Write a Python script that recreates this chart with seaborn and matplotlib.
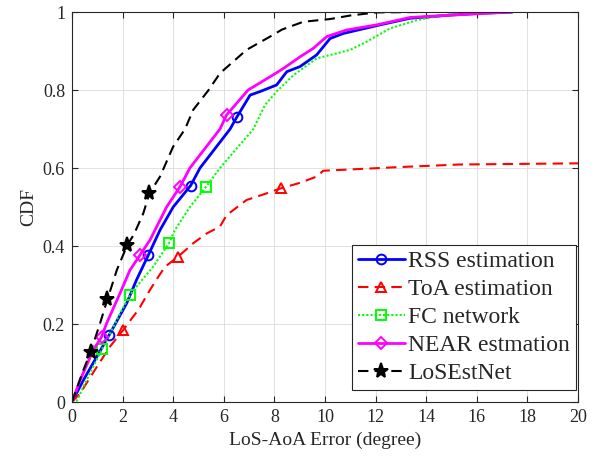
import numpy as np
import pandas as pd
import matplotlib
matplotlib.use("Agg")
import matplotlib.pyplot as plt
import seaborn as sns

# CDF curves (x = LoS-AoA error in degree)
rss_x = [0, 0.45, 0.98, 1.47, 2.16, 2.55, 3.02, 3.48, 4.0, 4.69, 5.06, 6.25, 6.51, 7.04, 7.43, 8.09, 8.49, 9.01, 9.67, 10.2, 10.72, 12.17, 13.36, 14.94, 16.2, 17.4]
rss_y = [0, 0.056, 0.116, 0.172, 0.253, 0.313, 0.377, 0.441, 0.5, 0.555, 0.6, 0.7, 0.73, 0.787, 0.796, 0.813, 0.847, 0.86, 0.89, 0.932, 0.945, 0.967, 0.984, 0.992, 0.997, 1.0]
rss_marks = [3, 6, 9, 12]

toa_x = [0, 0.32, 0.98, 1.5, 2.03, 2.36, 2.62, 3.08, 3.41, 3.68, 4.2, 4.79, 5.32, 5.85, 6.11, 6.9, 7.69, 8.26, 9.01, 9.67, 9.93, 12.8, 15.3, 20]
toa_y = [0, 0.022, 0.09, 0.142, 0.185, 0.214, 0.236, 0.287, 0.321, 0.347, 0.373, 0.407, 0.432, 0.45, 0.479, 0.518, 0.535, 0.548, 0.562, 0.578, 0.593, 0.602, 0.609, 0.612]
toa_marks = [4, 10, 17]

fc_x = [0, 0.2, 0.71, 1.2, 1.9, 2.29, 2.55, 3.21, 3.83, 4.07, 4.66, 5.3, 5.85, 7.17, 7.63, 8.09, 8.75, 9.67, 11.0, 11.65, 12.57, 13.62, 15.4]
fc_y = [0, 0.004, 0.074, 0.137, 0.227, 0.274, 0.296, 0.347, 0.407, 0.441, 0.5, 0.552, 0.6, 0.7, 0.762, 0.796, 0.838, 0.881, 0.903, 0.924, 0.958, 0.979, 1.0]
fc_marks = [3, 5, 8, 11]

near_x = [0, 0.32, 0.84, 1.17, 1.37, 1.9, 2.29, 2.69, 3.08, 3.74, 4.27, 4.66, 5.85, 6.11, 6.96, 7.83, 8.35, 9.01, 9.54, 10.07, 10.86, 12.04, 13.36, 14.94, 17.4]
near_y = [0, 0.056, 0.133, 0.167, 0.202, 0.279, 0.338, 0.377, 0.415, 0.5, 0.552, 0.6, 0.7, 0.736, 0.8, 0.834, 0.855, 0.885, 0.907, 0.937, 0.954, 0.967, 0.986, 0.992, 1.0]
near_marks = [3, 7, 10, 13]

lose_x = [0, 0.45, 0.74, 1.11, 1.4, 1.77, 2.19, 2.45, 2.82, 3.06, 3.48, 4.0, 4.47, 4.79, 5.4, 5.85, 6.9, 7.83, 8.3, 9.14, 10.2, 10.99, 12.04, 13.7]
lose_y = [0, 0.082, 0.129, 0.202, 0.263, 0.338, 0.403, 0.43, 0.484, 0.535, 0.578, 0.655, 0.7, 0.749, 0.8, 0.843, 0.903, 0.937, 0.955, 0.975, 0.982, 0.991, 0.999, 1.0]
lose_marks = [2, 4, 6, 9]

labels = ["RSS estimation", "ToA estimation", "FC network", "NEAR estmation", "LoSEstNet"]

sns.set_style("ticks")
plt.rcParams["font.family"] = ["Liberation Serif", "DejaVu Serif"]

fig = plt.figure(figsize=(5.92, 4.68), dpi=100)
ax = fig.add_axes([0.1216, 0.141, 0.8547, 0.8333])

series = [
    (rss_x, rss_y, rss_marks, "#0000ff", "-", "o", 2.0, "none"),
    (toa_x, toa_y, toa_marks, "#ff0000", (0, (5, 3)), "^", 1.5, "none"),
    (fc_x, fc_y, fc_marks, "#00ff00", (0, (1, 1)), "s", 1.5, "none"),
    (near_x, near_y, near_marks, "#ff00ff", "-", "D", 2.0, "none"),
    (lose_x, lose_y, lose_marks, "#000000", (0, (5, 3)), "*", 1.5, "#000000"),
]

for (xs, ys, marks, col, ls, mk, lw, mfc), lab in zip(series, labels):
    df = pd.DataFrame({"x": xs, "y": ys})
    ms = 7 if mk not in ("*", "D") else (11 if mk == "*" else 6)
    sns.lineplot(data=df, x="x", y="y", ax=ax, color=col, linestyle=ls, linewidth=lw,
                 marker=mk, markevery=marks, markersize=ms, markerfacecolor=mfc,
                 markeredgecolor=col, markeredgewidth=1.4, estimator=None, sort=False,
                 label=lab)

ax.set_xlim(0, 20)
ax.set_ylim(0, 1)
ax.set_xticks(np.arange(0, 21, 2))
ax.set_yticks(np.arange(0, 1.01, 0.2))
ax.set_yticklabels(["0", "0.2", "0.4", "0.6", "0.8", "1"])
ax.grid(True, color="#dcdcdc", linewidth=0.6)
ax.tick_params(direction="in", top=True, right=True, labelsize=13, length=4,
               color="#262626", pad=5)
for sp in ax.spines.values():
    sp.set_visible(True)
    sp.set_color("#262626")
    sp.set_linewidth(0.8)
ax.set_xlabel("LoS-AoA Error (degree)", fontsize=14)
ax.set_ylabel("CDF", fontsize=14)

leg = ax.legend(loc="lower right", bbox_to_anchor=(0.996, 0.031), fontsize=17,
                frameon=True, fancybox=False, edgecolor="#262626", framealpha=1,
                handlelength=2.0, handletextpad=0.15, borderpad=0.25,
                labelspacing=0.27, borderaxespad=0)
leg.get_frame().set_linewidth(0.8)

fig.savefig("out.png", dpi=100)
